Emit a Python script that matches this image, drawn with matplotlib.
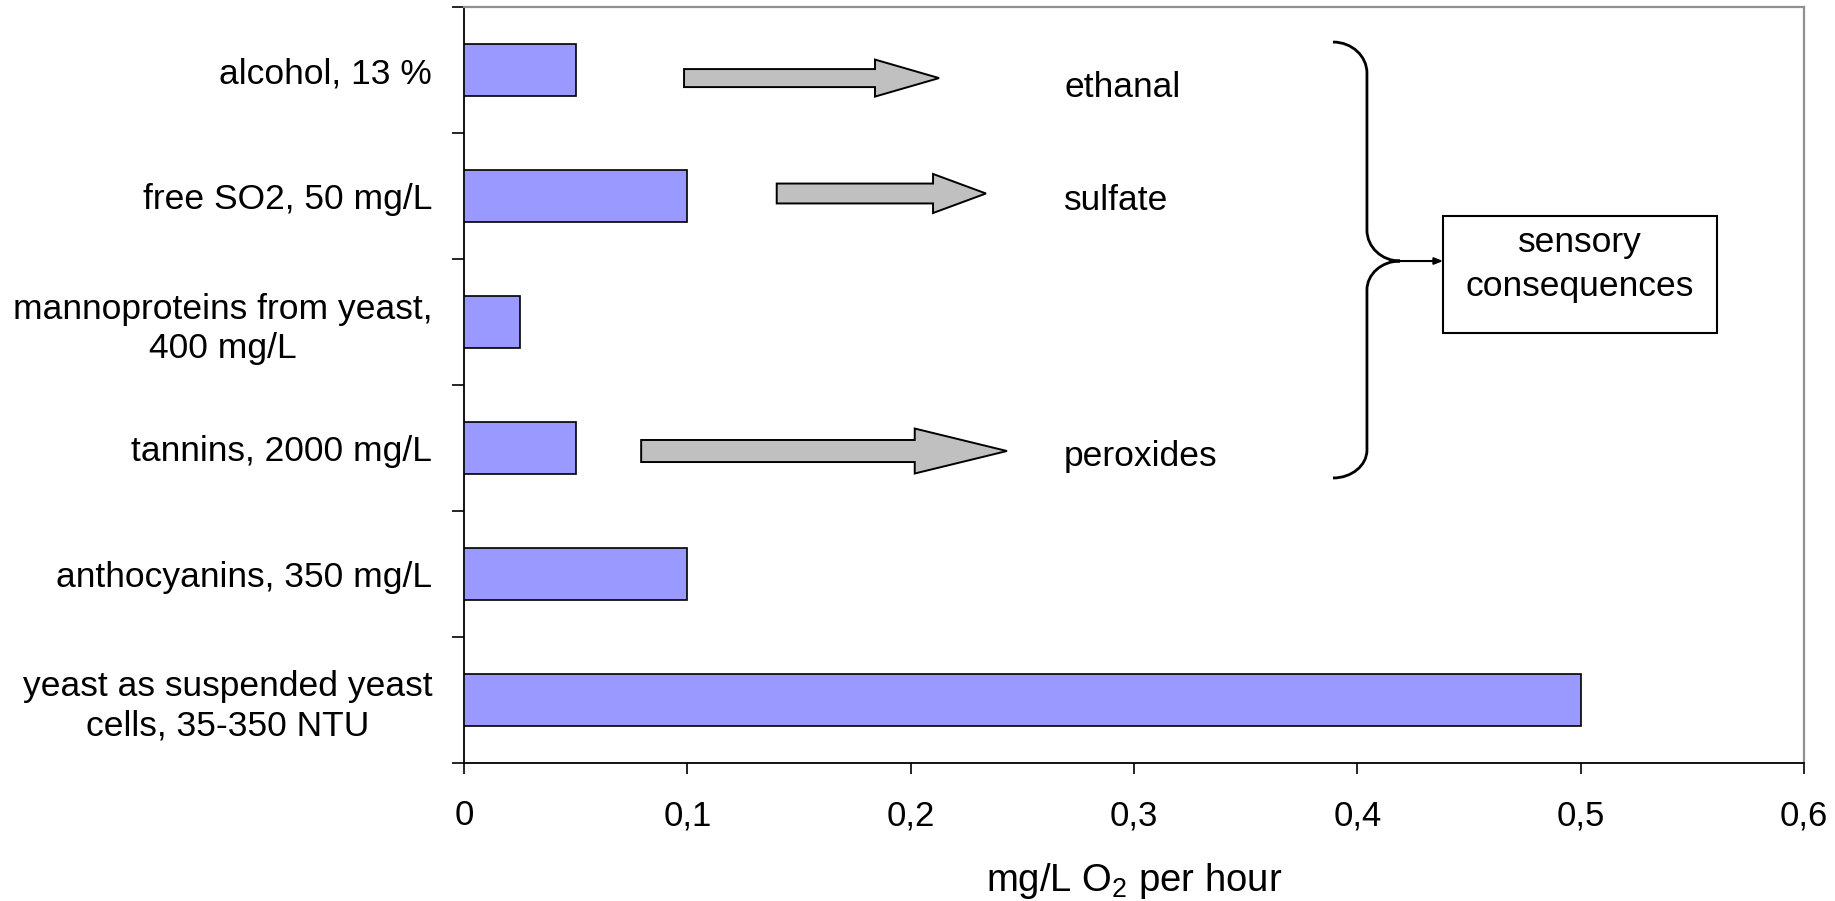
import matplotlib
matplotlib.use("Agg")
import matplotlib.pyplot as plt
from matplotlib.path import Path
from matplotlib.patches import PathPatch, FancyArrow, Rectangle

plt.rcParams["font.family"] = ["Liberation Sans", "DejaVu Sans"]
plt.rcParams["mathtext.default"] = "regular"

# Oxygen consumption rates by wine component
categories = [
    "alcohol, 13 %",
    "free SO2, 50 mg/L",
    "mannoproteins from yeast,\n400 mg/L",
    "tannins, 2000 mg/L",
    "anthocyanins, 350 mg/L",
    "yeast as suspended yeast\ncells, 35-350 NTU",
]
rates = [0.05, 0.10, 0.025, 0.05, 0.10, 0.50]
x_ticks = [0, 0.1, 0.2, 0.3, 0.4, 0.5, 0.6]
x_tick_labels = ["0", "0,1", "0,2", "0,3", "0,4", "0,5", "0,6"]

# Reaction products and the rows they come from
products = ["ethanal", "sulfate", "peroxides"]
product_rows = [0, 1, 3]

FS = 25.5

fig = plt.figure(figsize=(18.35, 9.01), dpi=100)
ax = fig.add_axes([0.2529, 0.1532, 0.9831 - 0.2529, 0.9922 - 0.1532])

pos = list(range(len(categories)))
ax.barh(pos, rates, height=0.42, color="#9999FF", edgecolor="black", linewidth=1.2, zorder=3)

ax.set_xlim(0, 0.6)
ax.set_ylim(len(categories) - 0.5, -0.5)

ax.set_xticks(x_ticks)
ax.set_xticklabels(x_tick_labels, fontsize=25)
ax.tick_params(axis="x", direction="out", length=8, width=1.2, pad=18, colors="black")

# Tick marks sit between categories, labels at the category centres
ax.set_yticks([p - 0.5 for p in pos] + [len(categories) - 0.5])
ax.set_yticklabels([])
ax.tick_params(axis="y", which="major", direction="out", length=8.5, width=1.2)
ax.set_yticks(pos, minor=True)
ax.set_yticklabels(categories, minor=True, fontsize=FS, ha="right",
                   multialignment="center", linespacing=1.25)
ax.tick_params(axis="y", which="minor", length=0, pad=23)

for side in ("left", "bottom"):
    ax.spines[side].set_color("black")
    ax.spines[side].set_linewidth(1.3)
for side in ("top", "right"):
    ax.spines[side].set_color("#909090")
    ax.spines[side].set_linewidth(1.6)

ax.set_xlabel("mg/L O$_2$ per hour", fontsize=27.5, labelpad=21)

# Block arrows pointing to the reaction products
arrow_specs = [
    # tail x, tip x, head length, shaft width, head width
    (0.0985, 0.2127, 0.0287, 0.143, 0.294),
    (0.1400, 0.2337, 0.0237, 0.158, 0.310),
    (0.0793, 0.2431, 0.0413, 0.175, 0.357),
]
arrow_y = [0.064, 0.980, 3.024]
for (x0, x1, hl, w, hw), yc in zip(arrow_specs, arrow_y):
    ax.add_patch(FancyArrow(x0, yc, x1 - x0, 0, width=w, head_width=hw,
                            head_length=hl, length_includes_head=True,
                            facecolor="#C0C0C0", edgecolor="black",
                            linewidth=1.4, zorder=4))

text_x = 0.2687
text_baselines = [0.214, 1.11, 3.143]
for label, yb in zip(products, text_baselines):
    ax.text(text_x, yb, label, fontsize=FS, ha="left", va="baseline", zorder=5)

# Curly brace grouping the products
k = 0.5523
xa, xb, xc = 0.3891, 0.4043, 0.4191
y_top, y1, y2, ym, y3, y4, y_bot = -0.222, 0.024, 1.270, 1.516, 1.746, 3.016, 3.238
verts = [
    (xa, y_top),
    (xa + k * (xb - xa), y_top), (xb, y1 - k * (y1 - y_top)), (xb, y1),
    (xb, y2),
    (xb, y2 + k * (ym - y2)), (xc - k * (xc - xb), ym), (xc, ym),
    (xc - k * (xc - xb), ym), (xb, y3 - k * (y3 - ym)), (xb, y3),
    (xb, y4),
    (xb, y4 + k * (y_bot - y4)), (xa + k * (xb - xa), y_bot), (xa, y_bot),
]
codes = [Path.MOVETO,
         Path.CURVE4, Path.CURVE4, Path.CURVE4,
         Path.LINETO,
         Path.CURVE4, Path.CURVE4, Path.CURVE4,
         Path.CURVE4, Path.CURVE4, Path.CURVE4,
         Path.LINETO,
         Path.CURVE4, Path.CURVE4, Path.CURVE4]
ax.add_patch(PathPatch(Path(verts, codes), facecolor="none", edgecolor="black",
                       linewidth=2.0, zorder=4))

box_x0, box_x1, box_y0, box_y1 = 0.4384, 0.5611, 1.159, 2.087
ax.annotate("", xy=(box_x0, ym), xytext=(xc, ym),
            arrowprops=dict(arrowstyle="-|>,head_length=0.5,head_width=0.2",
                            color="black", lw=1.5, shrinkA=0, shrinkB=0), zorder=5)
ax.add_patch(Rectangle((box_x0, box_y0), box_x1 - box_x0, box_y1 - box_y0,
                       facecolor="white", edgecolor="black", linewidth=1.5, zorder=4))
bx = (box_x0 + box_x1) / 2
ax.text(bx, 1.444, "sensory", fontsize=FS, ha="center", va="baseline", zorder=5)
ax.text(bx, 1.794, "consequences", fontsize=FS, ha="center", va="baseline", zorder=5)

fig.savefig("out.png", dpi=100, facecolor="white")
